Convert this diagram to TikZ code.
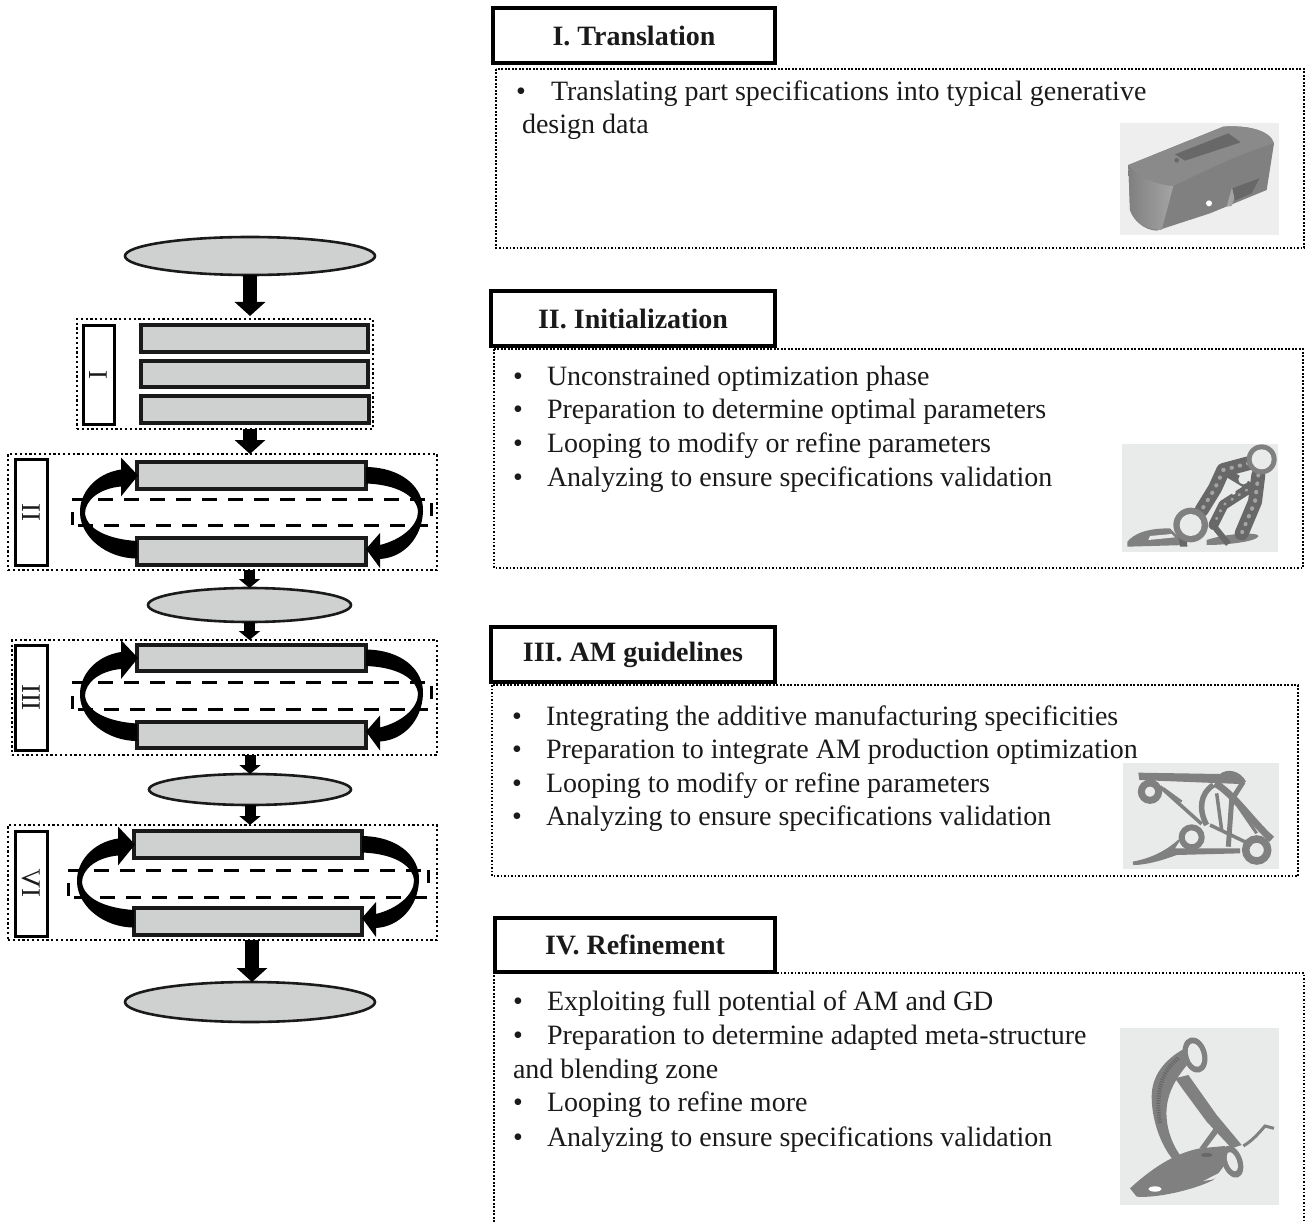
\documentclass[tikz,border=0pt]{standalone}
\usepackage{fontspec}
\setmainfont{Liberation Serif}
\usetikzlibrary{arrows.meta,shapes.geometric,calc}
\definecolor{inkc}{HTML}{1A1A1A}
\definecolor{boxgray}{HTML}{CFD1D0}
\definecolor{bgA}{HTML}{EEEEEE}
\definecolor{bgB}{HTML}{E9EAEA}
\definecolor{pdark}{HTML}{686868}
\definecolor{pmid}{HTML}{808080}
\definecolor{plite}{HTML}{A4A4A4}
\definecolor{ptop}{HTML}{8A8A8A}
\tikzset{
  gbox/.style={draw=inkc,fill=boxgray,line width=3.2pt,rectangle,inner sep=0pt,outer sep=0pt},
  lbox/.style={draw=black,fill=white,line width=3pt,rectangle,inner sep=0pt,outer sep=0pt},
  frm/.style={draw=black,line width=2.2pt,dash pattern=on 2.2pt off 2.6pt,rectangle,inner sep=0pt,outer sep=0pt},
  titlebox/.style={draw=black,fill=white,line width=3.2pt,rectangle,inner sep=0pt,outer sep=0pt,font=\fontsize{28}{28}\selectfont\bfseries,text=inkc},
  txtframe/.style={draw=black,line width=1.5pt,dash pattern=on 1.6pt off 1.9pt},
  oval/.style={ellipse,draw=inkc,fill=boxgray,line width=2.6pt,inner sep=0pt,outer sep=0pt},
  txt/.style={anchor=base west,inner sep=0pt,outer sep=0pt,text=inkc,font=\fontsize{28}{28}\selectfont},
  lab/.style={rotate=-90,font=\fontsize{27}{27}\selectfont,text=inkc,inner sep=0pt},
  bigarrow/.style={-{Triangle[width=30pt,length=14pt]},line width=14.5pt,draw=black},
  smallarrow/.style={-{Triangle[width=21pt,length=9pt]},line width=11pt,draw=black},
  dashln/.style={draw=black,line width=3pt,dash pattern=on 15pt off 11pt},
  tick/.style={draw=black,line width=3pt},
}
\newcommand\bx[7]{\node[#2,minimum width={(#5-#3)*1pt},minimum height={(#6-#4)*1pt}] (#1) at ({(#3+#5)/2},{(#4+#6)/2}) {#7};}
\newcommand\ov[5]{\node[oval,minimum width={(#4-#2)*1pt},minimum height={(#5-#3)*1pt}] (#1) at ({(#2+#4)/2},{(#3+#5)/2}) {};}
\newcommand\looparrows[1]{%
  \begin{scope}[shift={(#1.west)}]
    \fill[black] (1,0) -- (-16,-18) -- (-16,-6)
       .. controls (-42,-2) and (-58,18) .. (-57,38)
       .. controls (-56,62) and (-30,83) .. (0,83)
       -- (0,65.5)
       .. controls (-26,64) and (-50,55) .. (-52,38)
       .. controls (-52,25) and (-38,13) .. (-16,11)
       -- (-16,21) -- cycle;
  \end{scope}
  \begin{scope}[shift={(#1.east)}]
    \fill[black] (0,73.5) -- (14,57.5) -- (14,69.5)
       .. controls (36,64) and (52,50) .. (52,36)
       .. controls (51,20) and (30,9) .. (0,8)
       -- (0,-8.5)
       .. controls (36,-8) and (58,12) .. (57,36)
       .. controls (56,62) and (38,82) .. (14,83.5)
       -- (14,92.5) -- cycle;
  \end{scope}
}
\begin{document}
\begin{tikzpicture}[x=1pt,y=-1pt]
\useasboundingbox (0,0) rectangle (1306,1222);
% ---- left flow
\ov{start}{125}{237}{375}{275}
\bx{f1}{frm}{77}{319}{373}{429}{}
\bx{l1}{lbox}{83}{326}{114}{424}{}
\node[lab] (l1t) at (l1) {I};
\bx{a1}{gbox}{141}{325}{368}{352}{}
\bx{a2}{gbox}{141}{361}{368}{387}{}
\bx{a3}{gbox}{141}{396}{369}{423}{}

\bx{f2}{frm}{8}{454}{437}{570}{}
\bx{l2}{lbox}{15}{459}{47}{565}{}
\node[lab] (l2t) at (l2) {II};
\draw[dashln] (72,499) -- (425,499);
\draw[dashln] (78,525) -- (428,525);
\draw[tick] (72,512) -- (72,525);
\draw[tick] (431,503) -- (431,516);
\bx{t2}{gbox}{137}{462}{366}{489}{}
\bx{b2}{gbox}{137}{538}{366}{565}{}
\looparrows{t2}
\ov{m2}{148}{588}{351}{622}

\bx{f3}{frm}{12}{640}{437}{755}{}
\bx{l3}{lbox}{15}{645}{47}{750}{}
\node[lab] (l3t) at (l3) {III};
\draw[dashln] (72,682) -- (425,682);
\draw[dashln] (78,709) -- (428,709);
\draw[tick] (72,696) -- (72,709);
\draw[tick] (431,686) -- (431,699);
\bx{t3}{gbox}{137}{645}{366}{671}{}
\bx{b3}{gbox}{137}{722}{366}{748}{}
\looparrows{t3}
\ov{m3}{149}{774}{351}{805}

\bx{f4}{frm}{8}{825}{437}{940}{}
\bx{l4}{lbox}{15}{831}{47}{936}{}
\node[rotate=-90,xscale=-1,transform shape,font=\fontsize{27}{27}\selectfont,text=inkc,inner sep=0pt] (l4t) at (l4) {IV};
\draw[dashln] (68,870) -- (425,870);
\draw[dashln] (74,897) -- (430,897);
\draw[tick] (68,883) -- (68,896);
\draw[tick] (428,870) -- (428,883);
\bx{t4}{gbox}{134}{831}{362}{858}{}
\bx{b4}{gbox}{134}{908}{362}{935}{}
\looparrows{t4}
\ov{stop}{125}{982}{375}{1022}

\draw[bigarrow,shorten >=3pt] (start.south) -- (start.south |- f1.north);
\draw[bigarrow] (start.south |- f1.south) -- (start.south |- f2.north);
\draw[smallarrow] (m2.north |- f2.south) -- (m2.north);
\draw[smallarrow] (m2.south) -- (m2.south |- f3.north);
\draw[smallarrow] (m3.north |- f3.south) -- (m3.north);
\draw[smallarrow] (m3.south) -- (m3.south |- f4.north);
\draw[bigarrow] ([xshift=2pt]stop.north |- f4.south) -- ([xshift=2pt]stop.north);

% ---- right titles
\bx{h1}{titlebox}{493}{8}{775}{63}{\raisebox{-2pt}{I. Translation}}
\bx{h2}{titlebox}{491}{291}{775}{346}{\raisebox{-1pt}{II. Initialization}}
\bx{h3}{titlebox}{491}{627}{775}{682}{\raisebox{-2pt}{III. AM guidelines}}
\bx{h4}{titlebox}{495}{918}{775}{972}{\raisebox{-2pt}{IV. Refinement}}
% ---- text frames
\draw[txtframe] (496,69) rectangle (1304,248);
\draw[txtframe] (494,349) rectangle (1303,568);
\draw[txtframe] (492,685) rectangle (1298,876);
\draw[txtframe] (494,1222) -- (494,973) -- (1304,973) -- (1304,1222);
% ---- text
\node[txt] (b11) at (516,101) {•}; \node[txt] (t11) at (551,101) {Translating part specifications into typical generative};
\node[txt] (t12) at (522,134) {design data};

\node[txt] (b21) at (513,385) {•}; \node[txt] (t21) at (547,385) {Unconstrained optimization phase};
\node[txt] (b22) at (513,418) {•}; \node[txt] (t22) at (547,418) {Preparation to determine optimal parameters};
\node[txt] (b23) at (513,452) {•}; \node[txt] (t23) at (547,452) {Looping to modify or refine parameters};
\node[txt] (b24) at (513,486) {•}; \node[txt] (t24) at (547,486) {Analyzing to ensure specifications validation};

\node[txt] (b31) at (512,725) {•}; \node[txt] (t31) at (546,725) {Integrating the additive manufacturing specificities};
\node[txt] (b32) at (512,758) {•}; \node[txt] (t32) at (546,758) {Preparation to integrate AM production optimization};
\node[txt] (b33) at (512,792) {•}; \node[txt] (t33) at (546,792) {Looping to modify or refine parameters};
\node[txt] (b34) at (512,825) {•}; \node[txt] (t34) at (546,825) {Analyzing to ensure specifications validation};

\node[txt] (b41) at (513,1010) {•}; \node[txt] (t41) at (547,1010) {Exploiting full potential of AM and GD};
\node[txt] (b42) at (513,1044) {•}; \node[txt] (t42) at (547,1044) {Preparation to determine adapted meta-structure};
\node[txt] (t43) at (513,1078) {and blending zone};
\node[txt] (b44) at (513,1111) {•}; \node[txt] (t44) at (547,1111) {Looping to refine more};
\node[txt] (b45) at (513,1146) {•}; \node[txt] (t45) at (547,1146) {Analyzing to ensure specifications validation};

% ---- image 1
\begin{scope}[shift={(1100,110)},scale=1/3]
\fill[bgA] (60,40) rectangle (536,375);
\fill[pmid] (85,165) -- (370,50) .. controls (440,45) and (510,60) .. (522,100) -- (500,240) -- (330,310) -- (170,362) .. controls (130,360) and (100,330) .. (90,300) -- cycle;
\fill[ptop] (85,165) -- (370,50) .. controls (440,45) and (510,60) .. (522,100) .. controls (420,130) and (320,180) .. (220,228) .. controls (170,225) and (110,200) .. (85,165) -- cycle;
\shade[left color=pmid,right color=plite] (85,165) .. controls (110,200) and (170,225) .. (220,228) -- (185,360) .. controls (130,360) and (100,330) .. (90,300) -- cycle;
\fill[pdark] (225,133) -- (385,70) -- (422,97) -- (255,152) -- cycle;
\fill[white] (327,280) circle (9);
\fill[pdark] (230,151) circle (7);
\fill[plite] (380,290) -- (395,235) -- (410,240) -- (395,288) -- cycle;
\fill[pdark] (397,235) -- (478,205) -- (455,250) -- (405,272) -- cycle;
\end{scope}

% ---- image 2
\begin{scope}[shift={(1100,430)},scale=1/3]
\fill[bgB] (65,42) rectangle (535,365);
\fill[pmid] (82,335) .. controls (100,315) and (130,295) .. (210,295) -- (260,345) -- (82,350) -- cycle;
\fill[bgB] (150,318) -- (215,312) -- (225,322) -- (145,330) -- cycle;
\fill[pdark] (240,350) -- (235,320) -- (260,320) -- (262,350) -- cycle;
\fill[pmid] (320,330) .. controls (380,310) and (470,305) .. (476,318) .. controls (470,335) and (380,345) .. (320,345) -- cycle;
\draw[pdark,line width=14pt,line cap=round,line join=round] (445,100) -- (370,120) -- (345,175) -- (305,240);
\draw[pdark,line width=14pt,line cap=round,line join=round] (475,135) -- (465,215) -- (425,310);
\draw[pdark,line width=10pt,line cap=round,line join=round] (440,180) -- (370,225) -- (340,285);
\draw[pdark,line width=8pt] (375,125) -- (450,170);
\draw[plite,line width=4pt,line cap=round,dash pattern=on 0.5pt off 8pt] (445,100) -- (370,120) -- (345,175) -- (305,240);
\draw[plite,line width=4pt,line cap=round,dash pattern=on 0.5pt off 8pt] (475,135) -- (465,215) -- (425,310);
\draw[plite,line width=3pt,line cap=round,dash pattern=on 0.5pt off 8pt] (440,180) -- (370,225) -- (340,285);
\fill[bgB] (430,148) circle (15);
\fill[bgB] (400,187) circle (7);
\draw[pdark,line width=6pt] (335,280) -- (385,342);
\fill[pmid] (485,88) circle (45);
\fill[bgB] (485,88) circle (30);
\fill[pmid] (272,285) circle (52);
\fill[bgB] (272,285) circle (33);
\end{scope}

% ---- image 3
\begin{scope}[shift={(1100,750)},scale=1/3]
\fill[bgB] (68,38) rectangle (538,356);
\fill[pmid] (115,68) -- (360,72) .. controls (380,55) and (420,60) .. (438,95) -- (420,102) -- (118,90) -- cycle;
\draw[pmid,line width=7pt] (150,125) circle (26);
\draw[pmid,line width=3.5pt] (180,110) -- (305,222);
\draw[pmid,line width=2.5pt] (190,115) -- (245,155);
\draw[pmid,line width=5pt] (430,95) -- (395,150) -- (385,290);
\draw[pmid,line width=5.5pt] (340,105) .. controls (300,130) and (295,180) .. (320,225);
\draw[pmid,line width=7pt] (345,100) .. controls (400,130) and (460,220) .. (515,268);
\draw[pmid,line width=3.5pt] (350,130) -- (365,240);
\draw[pmid,line width=3.5pt] (330,225) -- (455,285);
\draw[pmid,line width=3pt] (415,170) -- (470,250);
\draw[pmid,line width=6pt] (275,262) circle (30);
\draw[pmid,line width=7.5pt] (470,300) circle (33);
\fill[pmid] (98,335) .. controls (150,325) and (200,305) .. (250,255) -- (225,295) -- (420,295) -- (420,310) -- (230,315) .. controls (190,330) and (140,345) .. (100,345) -- cycle;
\end{scope}

% ---- image 4
\begin{scope}[shift={(1100,1020)},scale=1/3]
\fill[bgB] (60,25) rectangle (538,556);
\fill[pmid] (90,505) .. controls (150,450) and (220,400) .. (300,385) -- (375,378) -- (385,420) -- (340,480) .. controls (280,510) and (170,535) .. (110,530) -- cycle;
\fill[white] (165,507) ellipse (20 and 8);
\fill[pdark] (320,405) ellipse (18 and 6);
\fill[bgB] (310,483) -- (365,455) -- (340,478) -- cycle;
\fill[pmid] (255,85) .. controls (190,120) and (155,170) .. (155,230) .. controls (155,310) and (190,390) .. (225,425) -- (245,412) .. controls (205,360) and (190,290) .. (205,235) .. controls (215,195) and (240,160) .. (265,130) -- cycle;
\draw[pdark,line width=4pt,dash pattern=on 1.2pt off 1.2pt] (235,115) .. controls (185,150) and (165,220) .. (180,310);
\fill[pmid] (345,320) -- (360,330) -- (318,385) -- (298,385) -- cycle;
\fill[pmid] (225,175) -- (265,165) -- (350,285) -- (425,375) -- (395,385) -- (320,305) -- (250,210) -- cycle;
\draw[pmid,line width=3pt] (430,378) .. controls (460,360) and (480,335) .. (495,318) -- (522,325);
\fill[pmid] (285,105) ellipse [x radius=36,y radius=54,rotate=15];
\fill[bgB] (285,105) ellipse [x radius=20,y radius=36,rotate=15];
\fill[pmid] (397,425) ellipse [x radius=30,y radius=50,rotate=20];
\fill[bgB] (397,425) ellipse [x radius=14,y radius=30,rotate=20];
\end{scope}
\end{tikzpicture}
\end{document}
